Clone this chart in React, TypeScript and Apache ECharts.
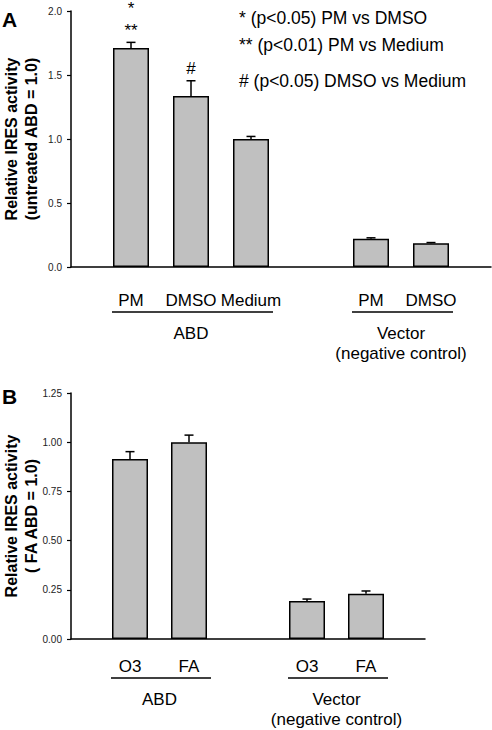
import React, { useEffect, useRef } from "react";
import * as echarts from "echarts";

// ---------- Data ----------
// Panel A
const labelsA = ["", "PM", "DMSO", "Medium", "", "PM", "DMSO", ""];
const barPosA = [1, 2, 3, 5, 6];
const valuesA = [1.71, 1.335, 1.0, 0.22, 0.185];
const errorsA = [0.045, 0.12, 0.02, 0.008, 0.006];
const annotA: string[][] = [["**", "*"], ["#"], [], [], []];
const groupsA = [
  { name: "ABD", from: 1, to: 3 },
  { name: "Vector\n(negative control)", from: 5, to: 6 },
];
const yTicksA = { min: 0, max: 2, step: 0.5 };

// Panel B
const labelsB = ["", "O3", "FA", "", "O3", "FA", ""];
const barPosB = [1, 2, 4, 5];
const valuesB = [0.914, 1.0, 0.193, 0.23];
const errorsB = [0.038, 0.036, 0.01, 0.014];
const annotB: string[][] = [[], [], [], []];
const groupsB = [
  { name: "ABD", from: 1, to: 2 },
  { name: "Vector\n(negative control)", from: 4, to: 5 },
];
const yTicksB = { min: 0, max: 1.25, step: 0.25 };

const keyLines = [
  "* (p<0.05) PM vs DMSO",
  "** (p<0.01) PM vs Medium",
  "# (p<0.05) DMSO vs Medium",
];

const FONT = "'Liberation Sans', Arial, Helvetica, sans-serif";

function errorSeries(idx: number, pos: number[], vals: number[], errs: number[], annots: string[][]) {
  return {
    type: "custom",
    xAxisIndex: idx,
    yAxisIndex: idx,
    silent: true,
    z: 3,
    data: pos.map((p, i) => [p, vals[i], errs[i]]),
    encode: { x: 0, y: 1 },
    renderItem: (params: any, api: any) => {
      const x = api.value(0);
      const v = api.value(1);
      const e = api.value(2);
      const base = api.coord([x, v]);
      const top = api.coord([x, v + e]);
      const st = { stroke: "#000", lineWidth: 1.5 };
      const children: any[] = [
        { type: "line", shape: { x1: base[0], y1: base[1], x2: top[0], y2: top[1] }, style: st },
        { type: "line", shape: { x1: top[0] - 4.5, y1: top[1], x2: top[0] + 4.5, y2: top[1] }, style: st },
      ];
      const lines = annots[params.dataIndex] || [];
      lines.forEach((t, k) => {
        children.push({
          type: "text",
          x: top[0],
          y: top[1] - 12 - 22 * k,
          style: {
            text: t,
            fontSize: 17,
            fontFamily: FONT,
            fill: "#000",
            align: "center",
            verticalAlign: "middle",
          },
        });
      });
      return { type: "group", children };
    },
  };
}

function groupSeries(idx: number, groups: { name: string; from: number; to: number }[], underline: number) {
  return {
    type: "custom",
    xAxisIndex: idx,
    yAxisIndex: idx,
    silent: true,
    data: groups.map((g) => [g.from, g.to]),
    renderItem: (params: any, api: any) => {
      const g = groups[params.dataIndex];
      const p1 = api.coord([api.value(0), 0]);
      const p2 = api.coord([api.value(1), 0]);
      const y = p1[1] + underline;
      return {
        type: "group",
        children: [
          {
            type: "line",
            shape: { x1: p1[0] - 19, y1: y, x2: p2[0] + 22, y2: y },
            style: { stroke: "#000", lineWidth: 1.5 },
          },
          {
            type: "text",
            x: (p1[0] + p2[0]) / 2,
            y: y + 11,
            style: {
              text: g.name,
              fontSize: 17,
              lineHeight: 20,
              fontFamily: FONT,
              fill: "#000",
              align: "center",
              verticalAlign: "top",
            },
          },
        ],
      };
    },
  };
}

export default function App() {
  const ref = useRef<HTMLDivElement>(null);
  useEffect(() => {
    if (!ref.current) return;
    const chart = echarts.init(ref.current, undefined, { renderer: "svg" });
    const yAxisCommon = (t: { min: number; max: number; step: number }, dec: number, name: string, gi: number) => ({
      type: "value",
      gridIndex: gi,
      min: t.min,
      max: t.max,
      interval: t.step,
      name,
      nameLocation: "middle",
      nameGap: 30,
      nameMoveOverlap: false,
      nameRotate: 90,
      nameTextStyle: { fontSize: 16, fontWeight: "bold", fontFamily: FONT, color: "#000", lineHeight: 20 },
      splitLine: { show: false },
      axisLine: { show: true, lineStyle: { color: "#000", width: 1.5 } },
      axisTick: { show: true, inside: false, length: 4, lineStyle: { color: "#000", width: 1.2 } },
      axisLabel: {
        fontSize: 10,
        color: "#222",
        fontFamily: FONT,
        margin: 9,
        formatter: (v: number) => v.toFixed(dec),
      },
    });
    const xAxisCommon = (labels: string[], gi: number, margin: number) => ({
      type: "value",
      gridIndex: gi,
      min: 0,
      max: labels.length - 1,
      interval: 1,
      splitLine: { show: false },
      axisLine: { show: true, onZero: false, lineStyle: { color: "#000", width: 1.5 } },
      axisTick: { show: false },
      axisLabel: {
        fontSize: 17,
        color: "#000",
        fontFamily: FONT,
        margin,
        showMinLabel: true,
        showMaxLabel: true,
        formatter: (v: number) => labels[Math.round(v)] || "",
      },
    });
    const barStyle = { color: "#c0c0c0", borderColor: "#000", borderWidth: 1.5 };
    chart.setOption({
      animation: false,
      backgroundColor: "#fff",
      grid: [
        { left: 71, top: 11, width: 420, height: 256, containLabel: false, outerBoundsMode: "none" },
        { left: 71, top: 393, width: 354, height: 246, containLabel: false, outerBoundsMode: "none" },
      ],
      xAxis: [xAxisCommon(labelsA, 0, 25), xAxisCommon(labelsB, 1, 19)],
      yAxis: [
        yAxisCommon(yTicksA, 1, "Relative IRES activity\n(untreated ABD = 1.0)", 0),
        yAxisCommon(yTicksB, 2, "Relative IRES activity\n( FA ABD = 1.0)", 1),
      ],
      graphic: [
        {
          type: "text",
          left: 2,
          top: 9,
          style: { text: "A", fontSize: 21, fontWeight: "bold", fontFamily: FONT, fill: "#000" },
        },
        {
          type: "text",
          left: 2,
          top: 386,
          style: { text: "B", fontSize: 21, fontWeight: "bold", fontFamily: FONT, fill: "#000" },
        },
        ...keyLines.map((t, i) => ({
          type: "text",
          x: 239,
          y: [18, 45, 81][i],
          style: {
            text: t,
            fontSize: 17.5,
            fontFamily: FONT,
            fill: "#000",
            verticalAlign: "middle",
          },
        })),
      ],
      series: [
        {
          type: "bar",
          xAxisIndex: 0,
          yAxisIndex: 0,
          barWidth: 36,
          itemStyle: barStyle,
          data: barPosA.map((p, i) => [p, valuesA[i]]),
          z: 2,
        },
        errorSeries(0, barPosA, valuesA, errorsA, annotA),
        groupSeries(0, groupsA, 45),
        {
          type: "bar",
          xAxisIndex: 1,
          yAxisIndex: 1,
          barWidth: 36,
          itemStyle: barStyle,
          data: barPosB.map((p, i) => [p, valuesB[i]]),
          z: 2,
        },
        errorSeries(1, barPosB, valuesB, errorsB, annotB),
        groupSeries(1, groupsB, 39),
      ],
    });
    return () => chart.dispose();
  }, []);
  return (
    <div
      ref={ref}
      style={{ position: "fixed", left: 0, top: 0, width: 492, height: 730, background: "#fff" }}
    />
  );
}
